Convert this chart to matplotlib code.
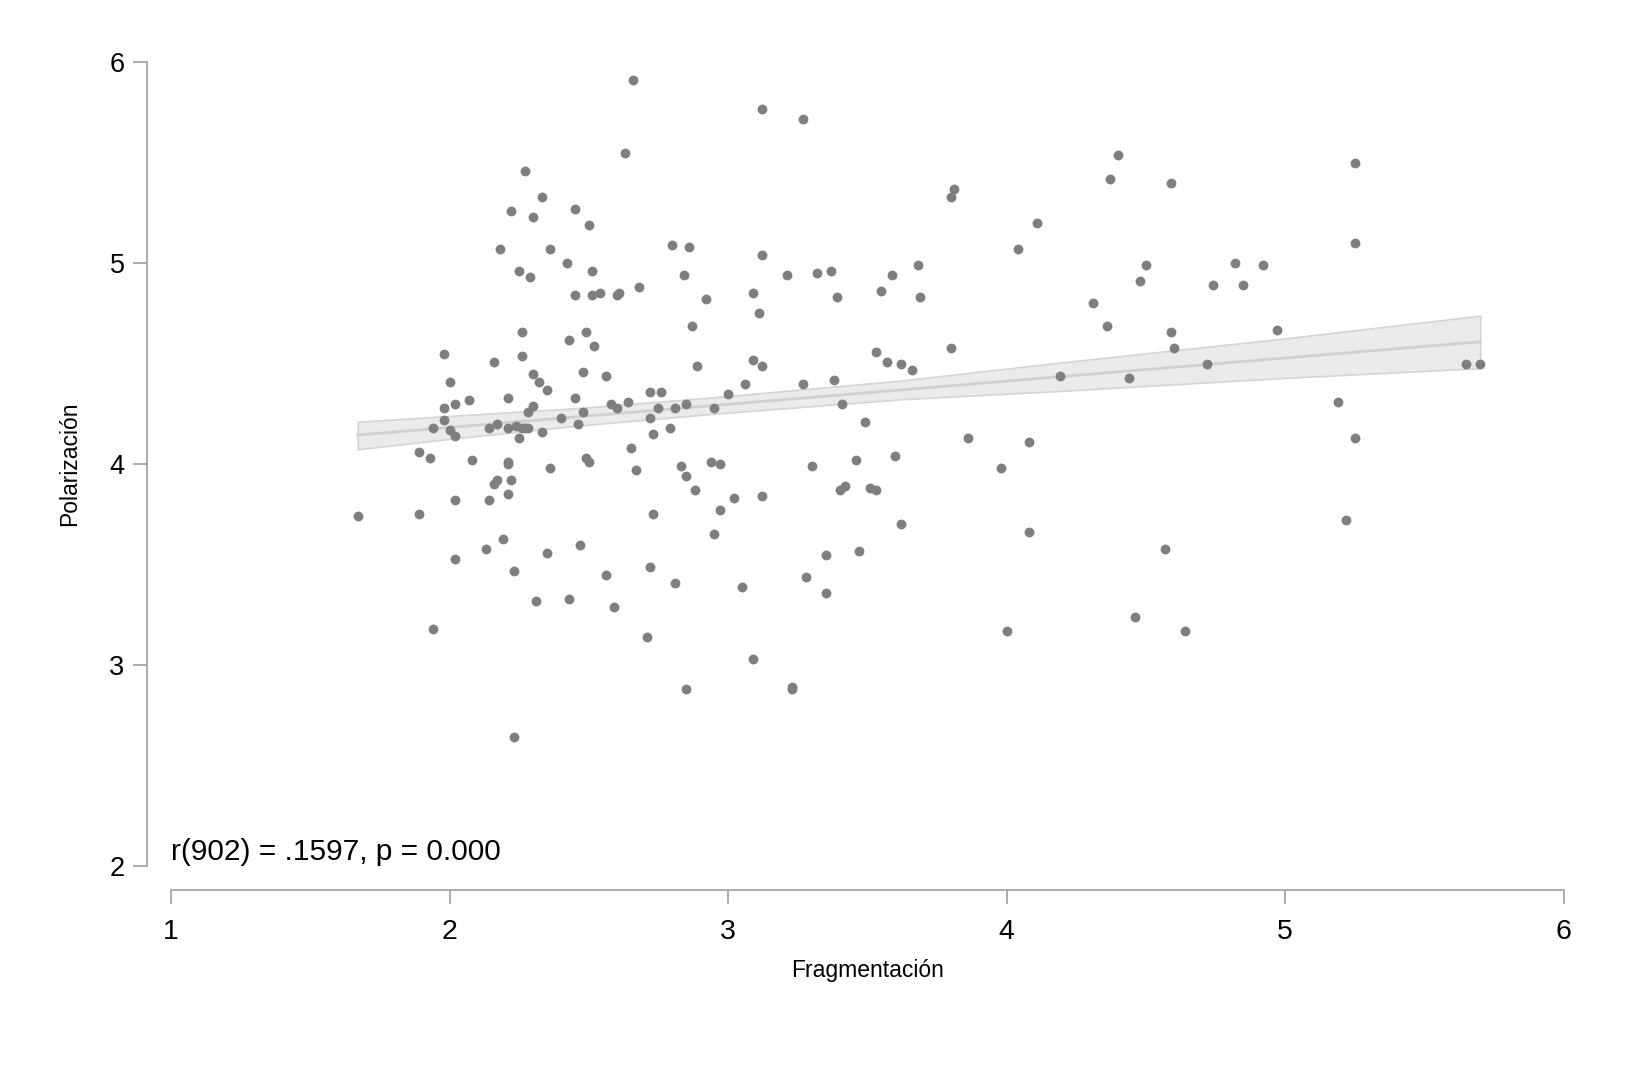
import matplotlib
matplotlib.use("Agg")
import matplotlib.pyplot as plt

plt.rcParams['font.family'] = ['Liberation Sans', 'DejaVu Sans']

# Fragmentación (x) and Polarización (y)
frag = [1.67, 1.89, 1.94, 1.89, 1.93, 1.94, 1.98, 2.00, 1.98, 1.98,
        2.00, 2.02, 2.02, 2.07, 2.02, 2.02, 2.08, 2.13, 2.14, 2.14,
        2.17, 2.16, 2.18, 2.16, 2.17, 2.19, 2.21, 2.21, 2.21, 2.21,
        2.22, 2.22, 2.21, 2.23, 2.23, 2.24, 2.25, 2.25, 2.26, 2.26,
        2.26, 2.27, 2.27, 2.28, 2.29, 2.30, 2.28, 2.30, 2.30, 2.31,
        2.32, 2.33, 2.33, 2.35, 2.35, 2.36, 2.36, 2.40, 2.42, 2.43,
        2.43, 2.45, 2.45, 2.45, 2.46, 2.47, 2.48, 2.48, 2.49, 2.49,
        2.50, 2.50, 2.51, 2.51, 2.52, 2.54, 2.56, 2.56, 2.58, 2.59,
        2.60, 2.60, 2.61, 2.63, 2.64, 2.65, 2.66, 2.67, 2.68, 2.71,
        2.72, 2.72, 2.72, 2.73, 2.73, 2.75, 2.76, 2.79, 2.80, 2.81,
        2.81, 2.83, 2.84, 2.85, 2.85, 2.85, 2.86, 2.87, 2.88, 2.89,
        2.92, 2.94, 2.95, 2.95, 2.97, 2.97, 3.00, 3.02, 3.05, 3.06,
        3.09, 3.09, 3.09, 3.11, 3.12, 3.12, 3.12, 3.12, 3.21, 3.23,
        3.23, 3.27, 3.27, 3.28, 3.30, 3.32, 3.35, 3.35, 3.37, 3.38,
        3.39, 3.40, 3.42, 3.41, 3.46, 3.47, 3.49, 3.51, 3.53, 3.53,
        3.55, 3.57, 3.59, 3.60, 3.62, 3.62, 3.66, 3.68, 3.69, 3.80,
        3.80, 3.81, 3.86, 3.98, 4.00, 4.04, 4.08, 4.08, 4.11, 4.19,
        4.31, 4.36, 4.37, 4.40, 4.44, 4.46, 4.48, 4.50, 4.57, 4.59,
        4.59, 4.60, 4.64, 4.72, 4.74, 4.82, 4.85, 4.92, 4.97, 5.19,
        5.22, 5.25, 5.25, 5.25, 5.65, 5.70]
polar = [3.74, 3.75, 3.18, 4.06, 4.03, 4.18, 4.55, 4.41, 4.28, 4.22,
         4.17, 4.14, 4.30, 4.32, 3.53, 3.82, 4.02, 3.58, 3.82, 4.18,
         4.20, 4.51, 5.07, 3.90, 3.92, 3.63, 4.33, 4.01, 4.00, 4.18,
         5.26, 3.92, 3.85, 3.47, 2.64, 4.19, 4.13, 4.96, 4.66, 4.54,
         4.18, 5.46, 4.18, 4.18, 4.93, 5.23, 4.26, 4.45, 4.29, 3.32,
         4.41, 5.33, 4.16, 4.37, 3.56, 3.98, 5.07, 4.23, 5.00, 4.62,
         3.33, 4.33, 4.84, 5.27, 4.20, 3.60, 4.26, 4.46, 4.66, 4.03,
         5.19, 4.01, 4.84, 4.96, 4.59, 4.85, 3.45, 4.44, 4.30, 3.29,
         4.28, 4.84, 4.85, 5.55, 4.31, 4.08, 5.91, 3.97, 4.88, 3.14,
         4.36, 4.23, 3.49, 4.15, 3.75, 4.28, 4.36, 4.18, 5.09, 3.41,
         4.28, 3.99, 4.94, 4.30, 2.88, 3.94, 5.08, 4.69, 3.87, 4.49,
         4.82, 4.01, 3.65, 4.28, 4.00, 3.77, 4.35, 3.83, 3.39, 4.40,
         4.52, 3.03, 4.85, 4.75, 4.49, 5.77, 3.84, 5.04, 4.94, 2.89,
         2.88, 5.72, 4.40, 3.44, 3.99, 4.95, 3.36, 3.55, 4.96, 4.42,
         4.83, 3.87, 3.89, 4.30, 4.02, 3.57, 4.21, 3.88, 3.87, 4.56,
         4.86, 4.51, 4.94, 4.04, 3.70, 4.50, 4.47, 4.99, 4.83, 4.58,
         5.33, 5.37, 4.13, 3.98, 3.17, 5.07, 4.11, 3.66, 5.20, 4.44,
         4.80, 4.69, 5.42, 5.54, 4.43, 3.24, 4.91, 4.99, 3.58, 5.40,
         4.66, 4.58, 3.17, 4.50, 4.89, 5.00, 4.89, 4.99, 4.67, 4.31,
         3.72, 5.50, 5.10, 4.13, 4.50, 4.50]

# linear fit and its confidence band
fit_x = [1.67, 5.70]
fit_y = [4.145, 4.609]
band_x = [1.67, 2.00, 2.47, 2.95, 3.62, 4.20, 4.98, 5.70]
band_lo = [4.074, 4.126, 4.193, 4.251, 4.323, 4.365, 4.428, 4.478]
band_hi = [4.211, 4.240, 4.280, 4.333, 4.416, 4.507, 4.623, 4.739]

annot = "r(902) = .1597, p = 0.000"

fig = plt.figure(figsize=(16.26, 10.84), dpi=100)
ax = fig.add_axes([0.1052, 0.2011, 0.8565, 0.7414])

ax.fill_between(band_x, band_lo, band_hi, facecolor='#ebebeb',
                edgecolor='#d4d4d4', linewidth=1.2, zorder=1)
ax.plot(fit_x, fit_y, color='#d0d0d0', linewidth=2.0, zorder=2)
ax.scatter(frag, polar, s=50, color='#7f7f7f', linewidths=0, zorder=3)

ax.set_xlim(1, 6)
ax.set_ylim(2, 6)
ax.set_xticks([1, 2, 3, 4, 5, 6])
ax.set_yticks([2, 3, 4, 5, 6])

for side in ['top', 'right']:
    ax.spines[side].set_visible(False)
ax.spines['left'].set_position(('outward', 17.5))
ax.spines['bottom'].set_position(('outward', 17.3))
ax.spines['left'].set_bounds(2, 6)
ax.spines['bottom'].set_bounds(1, 6)
for side in ['left', 'bottom']:
    ax.spines[side].set_color('#a6a6a6')
    ax.spines[side].set_linewidth(1.3)

ax.tick_params(axis='both', direction='out', length=10, width=1.3,
               color='#a6a6a6', labelcolor='black')
ax.tick_params(axis='y', labelsize=19.5, pad=6)
ax.tick_params(axis='x', labelsize=20.5, pad=11)

ax.set_xlabel("Fragmentación", fontsize=16.5, labelpad=10)
ax.set_ylabel("Polarización", fontsize=16.5, labelpad=20)

ax.text(1.0, 2.03, annot, fontsize=21.5, ha='left', va='baseline')

fig.savefig("out.png", dpi=100, facecolor='white')
